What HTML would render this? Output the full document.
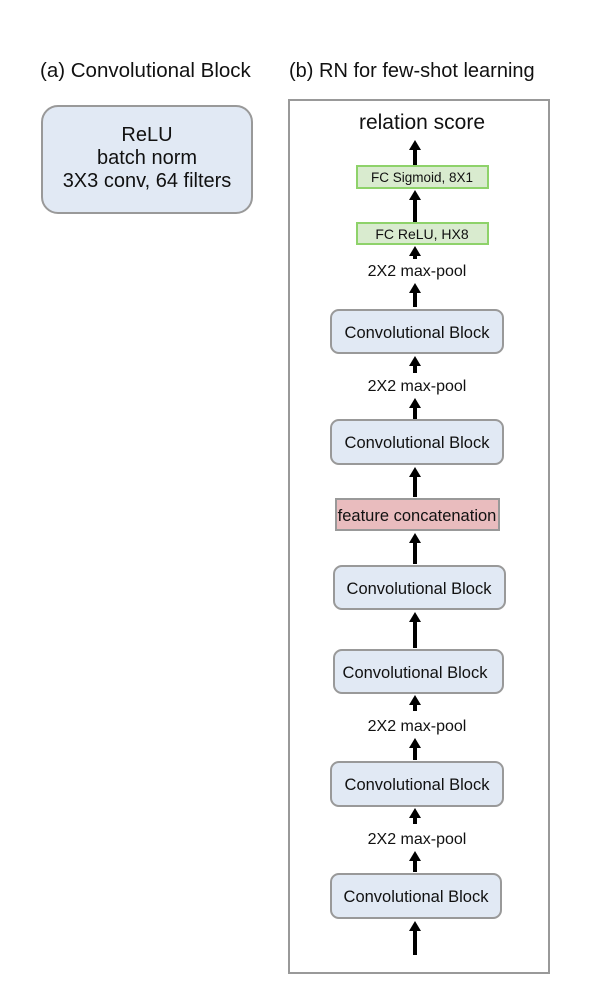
<!DOCTYPE html>
<html><head><style>
body{margin:0;background:#fff;}
svg text{font-family:"Liberation Sans",sans-serif;fill:#111;}
</style></head><body>
<svg width="602" height="1000" viewBox="0 0 602 1000" xmlns="http://www.w3.org/2000/svg">
<text x="40" y="77" font-size="20.5">(a) Convolutional Block</text>
<text x="289" y="77" font-size="20">(b) RN for few-shot learning</text>
<rect x="42" y="106" width="210" height="107" rx="16" fill="#e1e9f4" stroke="#999" stroke-width="2"/>
<text x="147" y="141" font-size="20" text-anchor="middle">ReLU</text>
<text x="147" y="164" font-size="20" text-anchor="middle">batch norm</text>
<text x="147" y="187" font-size="20" text-anchor="middle">3X3 conv, 64 filters</text>
<rect x="289" y="100" width="260" height="873" fill="none" stroke="#999" stroke-width="2"/>
<text x="422" y="129" font-size="21" text-anchor="middle">relation score</text>
<rect x="357" y="166" width="131" height="22" fill="#d9ebcf" stroke="#8ed26a" stroke-width="2"/>
<text x="422" y="182" font-size="13.5" text-anchor="middle">FC Sigmoid,  8X1</text>
<rect x="357" y="223" width="131" height="21" fill="#d9ebcf" stroke="#8ed26a" stroke-width="2"/>
<text x="422" y="239" font-size="14" text-anchor="middle">FC ReLU, HX8</text>
<g font-size="16" text-anchor="middle">
<text x="417" y="276">2X2 max-pool</text>
<text x="417" y="391">2X2 max-pool</text>
<text x="417" y="731">2X2 max-pool</text>
<text x="417" y="844">2X2 max-pool</text>
</g>
<g fill="#e1e9f4" stroke="#999" stroke-width="2">
<rect x="331" y="310" width="172" height="43" rx="8"/>
<rect x="331" y="420" width="172" height="44" rx="8"/>
<rect x="334" y="566" width="171" height="43" rx="8"/>
<rect x="334" y="650" width="169" height="43" rx="8"/>
<rect x="331" y="762" width="172" height="44" rx="8"/>
<rect x="331" y="874" width="170" height="44" rx="8"/>
</g>
<rect x="336" y="499" width="163" height="31" fill="#e9bcbe" stroke="#999" stroke-width="2"/>
<text x="417" y="521" font-size="16.5" text-anchor="middle">feature concatenation</text>
<g font-size="16.5" text-anchor="middle">
<text x="417" y="338">Convolutional Block</text>
<text x="417" y="448">Convolutional Block</text>
<text x="419" y="594">Convolutional Block</text>
<text x="415" y="678">Convolutional Block</text>
<text x="417" y="790">Convolutional Block</text>
<text x="416" y="902">Convolutional Block</text>
</g>
<g fill="#000">
<!-- arrow: tip y, tail y -->
<path d="M413,165 V150 H409 L415,140 L421,150 H417 V165 Z"/>
<path d="M413,222 V200 H409 L415,190 L421,200 H417 V222 Z"/>
<path d="M413,259 V256 H409 L415,246 L421,256 H417 V259 Z"/>
<path d="M413,307 V293 H409 L415,283 L421,293 H417 V307 Z"/>
<path d="M413,373 V366 H409 L415,356 L421,366 H417 V373 Z"/>
<path d="M413,419 V408 H409 L415,398 L421,408 H417 V419 Z"/>
<path d="M413,497 V477 H409 L415,467 L421,477 H417 V497 Z"/>
<path d="M413,564 V543 H409 L415,533 L421,543 H417 V564 Z"/>
<path d="M413,648 V622 H409 L415,612 L421,622 H417 V648 Z"/>
<path d="M413,711 V705 H409 L415,695 L421,705 H417 V711 Z"/>
<path d="M413,760 V748 H409 L415,738 L421,748 H417 V760 Z"/>
<path d="M413,824 V818 H409 L415,808 L421,818 H417 V824 Z"/>
<path d="M413,872 V861 H409 L415,851 L421,861 H417 V872 Z"/>
<path d="M413,955 V931 H409 L415,921 L421,931 H417 V955 Z"/>
</g>
</svg>
</body></html>
